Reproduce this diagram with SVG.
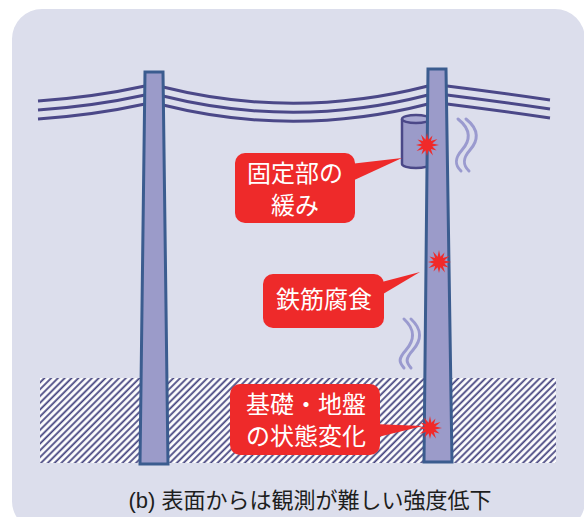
<svg xmlns="http://www.w3.org/2000/svg" width="584" height="517" viewBox="0 0 584 517">
  <style>
    .pole { fill: #9b9bc9; stroke: #3b5c8f; stroke-width: 3; stroke-linejoin: miter; }
    .wire { fill: none; stroke: #4b4888; stroke-width: 3; }
    .wave { fill: none; stroke: #9a9acf; stroke-width: 3; stroke-linecap: round; }
    .callout { fill: #ee2a2a; }
    .label { fill: #ffffff; font-family: "Noto Sans CJK JP", "Noto Sans CJK SC", sans-serif; font-size: 24px; text-anchor: middle; }
    .caption { fill: #1e1e1e; font-family: "Liberation Sans", "Noto Sans CJK JP", sans-serif; font-size: 22px; text-anchor: middle; }
    .burst { fill: #f02a2a; }
  </style>
  <defs>
    <pattern id="hatch" width="4.8" height="4.8" patternUnits="userSpaceOnUse" patternTransform="rotate(45)">
      <rect width="4.8" height="4.8" fill="#ffffff"/>
      <line x1="1.2" y1="0" x2="1.2" y2="4.8" stroke="#45447f" stroke-width="1.8"/>
    </pattern>
    <polygon id="burst" points="12,0 5.3,1.4 9.5,5.5 3.9,3.9 6,10.4 1.4,5.3 0,11 -1.4,5.3 -5.5,9.5 -3.9,3.9 -10.4,6 -5.3,1.4 -11,0 -5.3,-1.4 -9.5,-5.5 -3.9,-3.9 -6,-10.4 -1.4,-5.3 0,-12 1.4,-5.3 5.5,-9.5 3.9,-3.9 10.4,-6 5.3,-1.4"/>
  </defs>

  <!-- panel background -->
  <rect x="12" y="9" width="573" height="522" rx="30" fill="#dcdeec"/>

  <!-- ground band -->
  <rect id="ground" x="40" y="378" width="516" height="85" fill="url(#hatch)"/>

  <!-- overhead wires -->
  <g id="wires">
    <path class="wire" d="M38 101 Q95 97 145 86"/>
    <path class="wire" d="M38 110 Q95 106 145 95"/>
    <path class="wire" d="M38 119 Q95 115 145 104"/>
    <path class="wire" d="M163 87 Q295 120 428 86"/>
    <path class="wire" d="M163 96 Q295 129 428 95"/>
    <path class="wire" d="M163 105 Q295 138 428 104"/>
    <path class="wire" d="M447 86 Q495 92 550 100"/>
    <path class="wire" d="M447 95 Q495 101 550 109"/>
    <path class="wire" d="M447 104 Q495 110 550 118"/>
  </g>

  <!-- fixture clamped to the right pole -->
  <g id="fixture">
    <path d="M402 119 L402 164 A14 4 0 0 0 430 164 L430 119" fill="#9b9bc9" stroke="#4b4888" stroke-width="2.5"/>
    <ellipse cx="416" cy="119" rx="14" ry="4" fill="#a9a9d3" stroke="#4b4888" stroke-width="2.5"/>
  </g>

  <!-- poles -->
  <g id="pole-left">
    <polygon class="pole" points="145,72 163,72 168,464 140,464"/>
  </g>
  <g id="pole-right">
    <polygon class="pole" points="428,69 446,69 452,462 424,462"/>
  </g>

  <!-- sway marks -->
  <g id="sway-upper">
    <path class="wave" d="M458 119 C472 130 470 141 462 150 S455 165 461 171"/>
    <path class="wave" d="M466 119 C480 130 478 141 470 150 S463 165 469 171"/>
  </g>
  <g id="sway-lower">
    <path class="wave" d="M404 319 C416 330 414 341 406 350 S399 362 404 368"/>
    <path class="wave" d="M411 319 C423 330 421 341 413 350 S406 362 411 368"/>
  </g>

  <!-- damage points -->
  <use href="#burst" class="burst" transform="translate(427 145)"/>
  <use href="#burst" class="burst" transform="translate(439 262)"/>
  <use href="#burst" class="burst" transform="translate(430 428)"/>

  <!-- callouts -->
  <g id="callout-fixing">
    <polygon class="callout" points="350,164 402,158 350,182"/>
    <rect class="callout" x="235" y="153" width="120" height="70" rx="10"/>
    <text class="label" x="295" y="182">固定部の</text>
    <text class="label" x="295" y="214">緩み</text>
  </g>
  <g id="callout-rebar">
    <polygon class="callout" points="378,283 420,272 378,297"/>
    <rect class="callout" x="263" y="274" width="121" height="54" rx="10"/>
    <text class="label" x="324" y="308">鉄筋腐食</text>
  </g>
  <g id="callout-foundation">
    <polygon class="callout" points="374,424 423,426 374,438"/>
    <rect class="callout" x="230" y="384" width="150" height="71" rx="10"/>
    <text class="label" x="306" y="413">基礎・地盤</text>
    <text class="label" x="306" y="445">の状態変化</text>
  </g>

  <!-- caption -->
  <text class="caption" x="310" y="508">(b) 表面からは観測が難しい強度低下</text>
</svg>
